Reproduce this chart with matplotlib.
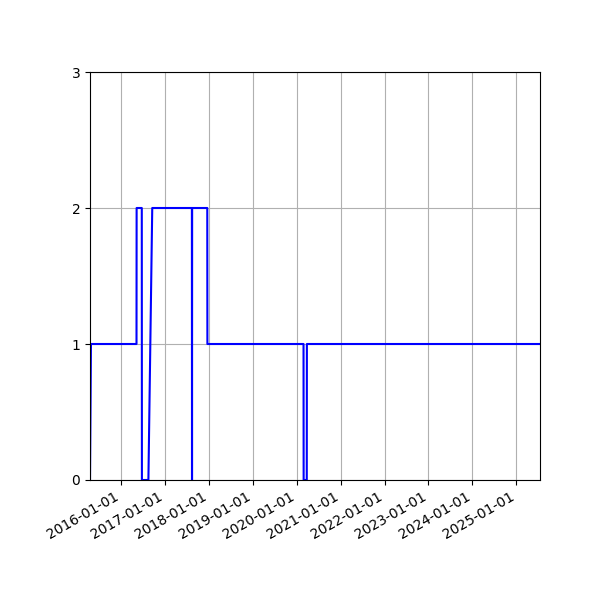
import matplotlib
matplotlib.use('Agg')
import matplotlib.pyplot as plt
import matplotlib.dates as mdates
import pandas as pd

dates = [
    '2015-04-16', '2015-04-24',
    '2016-05-07', '2016-05-08',
    '2016-06-20', '2016-06-21',
    '2016-08-14', '2016-09-15',
    '2017-08-11', '2017-08-12', '2017-08-13',
    '2017-12-17', '2017-12-18',
    '2020-02-26', '2020-02-27',
    '2020-03-24', '2020-03-25',
    '2025-07-17',
]
values = [
    0, 1,
    1, 2,
    2, 0,
    0, 2,
    2, 0, 2,
    2, 1,
    1, 0,
    0, 1,
    1,
]

dates = pd.to_datetime(dates)

fig, ax = plt.subplots(figsize=(6, 6), dpi=100)
ax.plot(dates, values, color='blue')
ax.set_xlim(dates[0], dates[-1])
ax.set_ylim(0, 3)
ax.set_yticks([0, 1, 2, 3])
ax.xaxis.set_major_locator(mdates.YearLocator())
ax.xaxis.set_major_formatter(mdates.DateFormatter('%Y-%m-%d'))
ax.grid(True)
fig.autofmt_xdate()
fig.subplots_adjust(left=0.15, right=0.9, top=0.88, bottom=0.2)
fig.savefig('out.png')
